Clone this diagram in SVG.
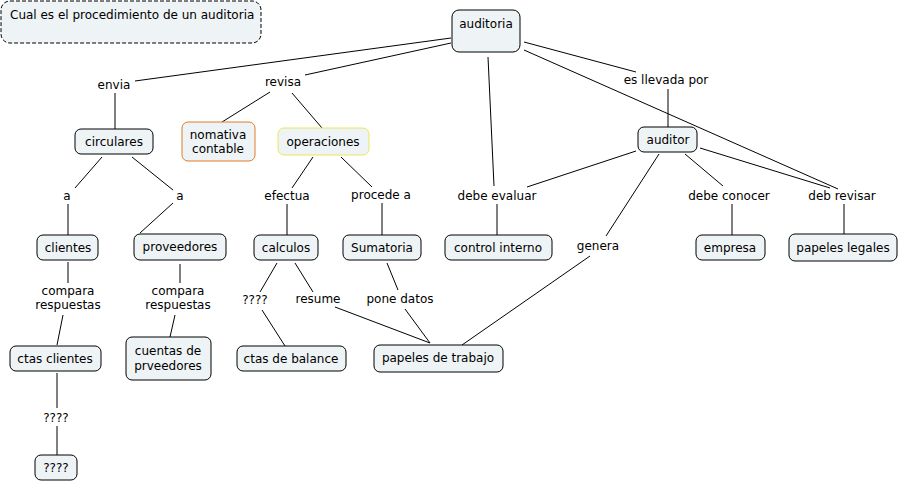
<svg xmlns="http://www.w3.org/2000/svg" width="900" height="482" viewBox="0 0 900 482">
<style>
.n rect{fill:#eef3f5;stroke:#000;stroke-width:1}
text{font-family:"DejaVu Sans",Verdana,sans-serif;font-size:12px;fill:#000;text-anchor:middle}
.c line{stroke:#000;stroke-width:1}
</style>
<rect width="900" height="482" fill="#fff"/>
<g id="title"><rect x="1" y="1" width="260" height="42" rx="9" fill="#eef3f5" stroke="#000" stroke-dasharray="4,2"/><text x="10" y="19" style="text-anchor:start">Cual es el procedimiento de un auditoria</text></g>
<g class="c" id="connectors">
<line x1="135" y1="81" x2="451" y2="38"/>
<line x1="305" y1="75" x2="451" y2="43"/>
<line x1="115" y1="93" x2="115" y2="129"/>
<line x1="270" y1="92" x2="222" y2="122"/>
<line x1="292" y1="93" x2="322" y2="128"/>
<line x1="524" y1="42" x2="636" y2="72"/>
<line x1="668" y1="89" x2="668" y2="127"/>
<line x1="524" y1="50" x2="838" y2="189"/>
<line x1="488" y1="57" x2="494" y2="186"/>
<line x1="497" y1="204" x2="497" y2="235"/>
<line x1="636" y1="151" x2="527" y2="187"/>
<line x1="659" y1="154" x2="606" y2="236"/>
<line x1="590" y1="256" x2="462" y2="345"/>
<line x1="685" y1="154" x2="723" y2="186"/>
<line x1="732" y1="204" x2="732" y2="235"/>
<line x1="700" y1="148" x2="830" y2="188"/>
<line x1="844" y1="204" x2="844" y2="234"/>
<line x1="102" y1="157" x2="75" y2="188"/>
<line x1="132" y1="157" x2="173" y2="190"/>
<line x1="68" y1="204" x2="68" y2="235"/>
<line x1="173" y1="203" x2="140" y2="233"/>
<line x1="68" y1="262" x2="68" y2="283"/>
<line x1="63" y1="315" x2="57" y2="345"/>
<line x1="180" y1="264" x2="180" y2="283"/>
<line x1="175" y1="315" x2="170" y2="337"/>
<line x1="313" y1="157" x2="292" y2="188"/>
<line x1="341" y1="157" x2="372" y2="187"/>
<line x1="287" y1="204" x2="287" y2="235"/>
<line x1="382" y1="203" x2="382" y2="235"/>
<line x1="277" y1="263" x2="260" y2="292"/>
<line x1="262" y1="310" x2="285" y2="346"/>
<line x1="295" y1="263" x2="313" y2="292"/>
<line x1="335" y1="307" x2="430" y2="343"/>
<line x1="387" y1="263" x2="398" y2="290"/>
<line x1="405" y1="309" x2="430" y2="343"/>
<line x1="57" y1="373" x2="57" y2="408"/>
<line x1="57" y1="426" x2="57" y2="455"/>
</g>
<g id="labels">
<text x="114" y="89">envia</text>
<text x="283" y="86">revisa</text>
<text x="666" y="84">es llevada por</text>
<text x="67" y="200">a</text>
<text x="180" y="200">a</text>
<text x="287" y="200">efectua</text>
<text x="381" y="199">procede a</text>
<text x="497" y="200">debe evaluar</text>
<text x="729" y="200">debe conocer</text>
<text x="842" y="200">deb revisar</text>
<text x="598" y="250">genera</text>
<text x="68" y="295">compara</text><text x="68" y="309">respuestas</text>
<text x="178" y="295">compara</text><text x="178" y="309">respuestas</text>
<text x="255" y="304">????</text>
<text x="318" y="303">resume</text>
<text x="400" y="303">pone datos</text>
<text x="56" y="422">????</text>
</g>
<g class="n" id="n-auditoria"><rect x="452" y="10" width="68" height="42" rx="7"/><text x="486" y="28">auditoria</text></g>
<g class="n" id="n-circulares"><rect x="75" y="129" width="78" height="25" rx="6"/><text x="114" y="146">circulares</text></g>
<g class="n" id="n-nomativa"><rect x="182" y="122" width="73" height="39" rx="6" style="stroke:#e07b2a"/><text x="218" y="139">nomativa</text><text x="218" y="153">contable</text></g>
<g class="n" id="n-operaciones"><rect x="278" y="128" width="91" height="27" rx="6" style="stroke:#e8e85a"/><text x="323" y="146">operaciones</text></g>
<g class="n" id="n-auditor"><rect x="638" y="127" width="59" height="25" rx="6"/><text x="668" y="144">auditor</text></g>
<g class="n" id="n-clientes"><rect x="37" y="235" width="61" height="25" rx="6"/><text x="68" y="252">clientes</text></g>
<g class="n" id="n-proveedores"><rect x="134" y="234" width="92" height="26" rx="6"/><text x="180" y="251">proveedores</text></g>
<g class="n" id="n-calculos"><rect x="254" y="235" width="64" height="25" rx="6"/><text x="286" y="252">calculos</text></g>
<g class="n" id="n-sumatoria"><rect x="343" y="235" width="78" height="25" rx="6"/><text x="382" y="252">Sumatoria</text></g>
<g class="n" id="n-control"><rect x="445" y="235" width="107" height="25" rx="6"/><text x="498" y="252">control interno</text></g>
<g class="n" id="n-empresa"><rect x="696" y="235" width="69" height="25" rx="6"/><text x="730" y="252">empresa</text></g>
<g class="n" id="n-legales"><rect x="789" y="234" width="108" height="27" rx="6"/><text x="843" y="252">papeles legales</text></g>
<g class="n" id="n-ctasclientes"><rect x="10" y="346" width="91" height="25" rx="6"/><text x="55" y="363">ctas clientes</text></g>
<g class="n" id="n-cuentas"><rect x="126" y="337" width="85" height="43" rx="6"/><text x="168" y="355">cuentas de</text><text x="168" y="370">prveedores</text></g>
<g class="n" id="n-balance"><rect x="237" y="346" width="109" height="25" rx="6"/><text x="291" y="363">ctas de balance</text></g>
<g class="n" id="n-trabajo"><rect x="374" y="345" width="129" height="27" rx="6"/><text x="438" y="362">papeles de trabajo</text></g>
<g class="n" id="n-q"><rect x="35" y="455" width="42" height="25" rx="6"/><text x="56" y="472">????</text></g>
</svg>
